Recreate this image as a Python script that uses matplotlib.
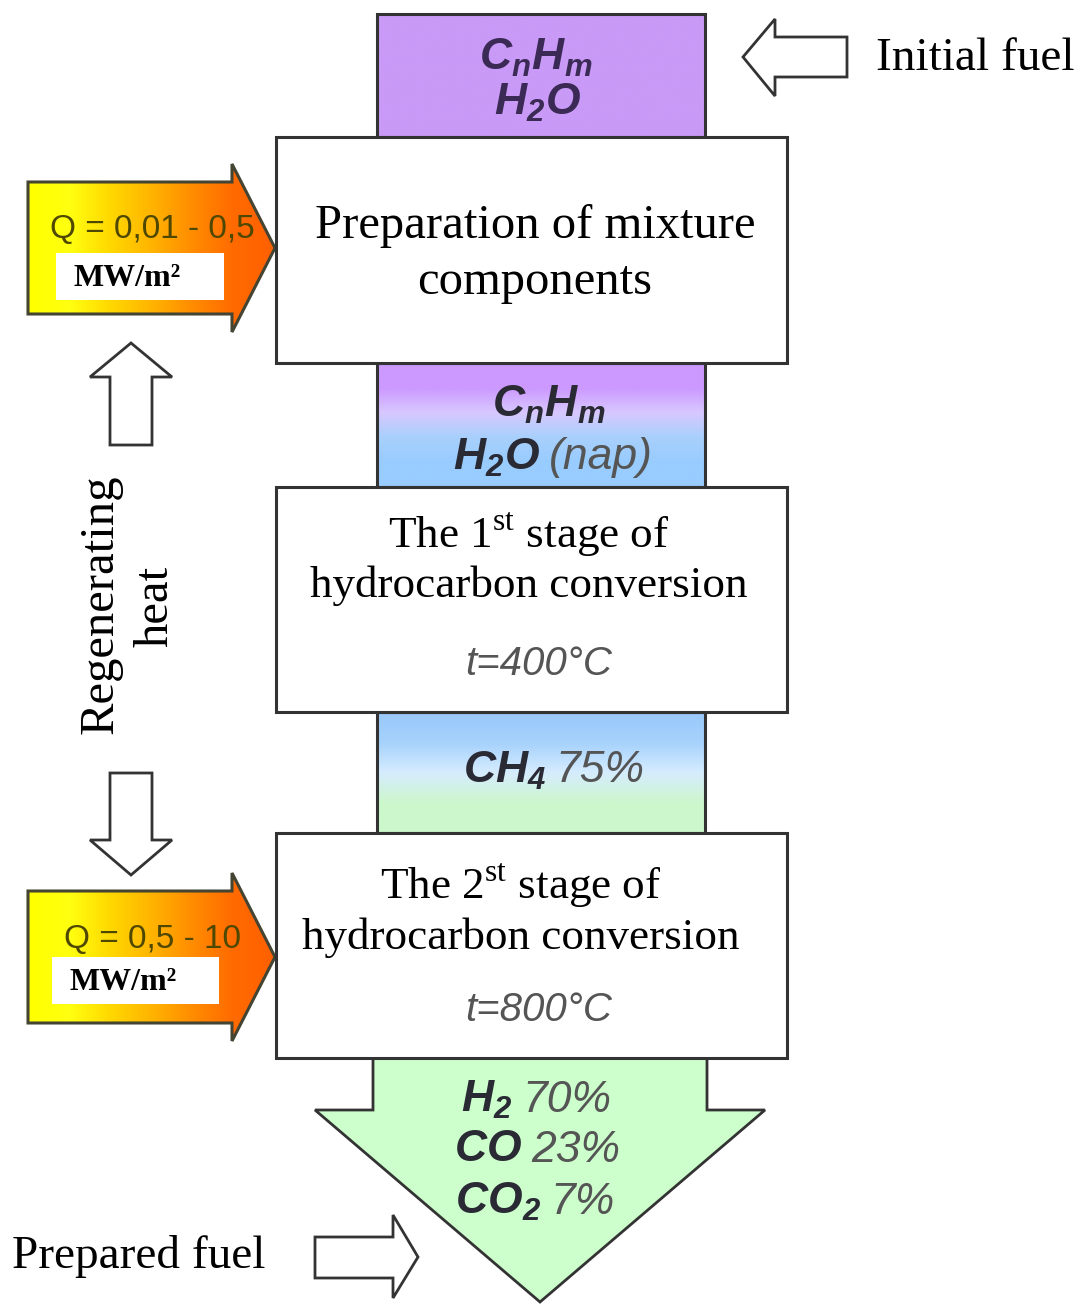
import numpy as np
import matplotlib
matplotlib.use('Agg')
import matplotlib.pyplot as plt
from matplotlib.patches import Polygon, Rectangle
from matplotlib.colors import LinearSegmentedColormap

plt.rcParams['font.family'] = ['Liberation Serif', 'DejaVu Serif']
plt.rcParams['mathtext.fontset'] = 'custom'
plt.rcParams['mathtext.rm'] = 'Liberation Serif'
plt.rcParams['mathtext.it'] = 'Liberation Sans:italic'
plt.rcParams['mathtext.bf'] = 'Liberation Sans:italic:bold'

# texts of the scheme
stage_titles = [['Preparation of mixture', 'components'],
                ['The 1$^{\\mathrm{st}}$ stage of', 'hydrocarbon conversion'],
                ['The 2$^{\\mathrm{st}}$ stage of', 'hydrocarbon conversion']]
stage_temps = [None, 't=400°C', 't=800°C']
heat_flux = ['Q = 0,01 - 0,5', 'Q = 0,5 - 10']
heat_unit = 'MW/m²'
feed_gas = ['$\\mathbf{C_nH_m}$', '$\\mathbf{H_2O}$']
steam_gas = ['$\\mathbf{C_nH_m}$', '$\\mathbf{H_2O}$', '(nap)']
ch4_share = ['$\\mathbf{CH_4}$', '75%']
product_names = ['$\\mathbf{H_2}$', '$\\mathbf{CO}$', '$\\mathbf{CO_2}$']
product_shares = ['70%', '23%', '7%']

W, H = 1088, 1304
fig = plt.figure(figsize=(W / 100, H / 100), dpi=100)
ax = fig.add_axes([0, 0, 1, 1])
ax.set_xlim(0, W)
ax.set_ylim(H, 0)
ax.axis('off')

EC = '#333333'
DARK = '#2a2a35'
GREY = '#555555'


def gradient(ax, x0, x1, y0, y1, colors, clip, vertical=False):
    cmap = LinearSegmentedColormap.from_list('g', colors)
    g = np.linspace(0, 1, 256)
    g = g.reshape(-1, 1) if vertical else g.reshape(1, -1)
    im = ax.imshow(g, extent=(x0, x1, y1, y0), cmap=cmap, aspect='auto',
                   interpolation='bilinear', zorder=1)
    im.set_clip_path(clip)


def column(ax, y0, y1, colors):
    r = Rectangle((377, y0), 328, y1 - y0, facecolor='none', edgecolor=EC,
                  lw=2.2, zorder=3)
    ax.add_patch(r)
    gradient(ax, 377, 705, y0, y1, colors, r, vertical=True)


def box(ax, y0, y1):
    ax.add_patch(Rectangle((276, y0), 511, y1 - y0, facecolor='white',
                           edgecolor=EC, lw=2.2, zorder=4))


def hollow(ax, pts):
    ax.add_patch(Polygon(pts, closed=True, facecolor='white', edgecolor=EC,
                         lw=2, zorder=3))


def split_text(ax, xs, y, left, right, size=32):
    ax.text(xs, y, left, ha='right', va='center', fontsize=size, color=DARK, zorder=6)
    ax.text(xs + 9, y, right, ha='left', va='center', fontsize=size, color=GREY,
            family='Liberation Sans', style='italic', zorder=6)


# columns between the stages
column(ax, 14, 137, ['#c99af7', '#c99af7'])
column(ax, 363, 487, ['#cc99ff', '#cc99ff', '#d8c8ff', '#a8d0fc', '#99ccff', '#99ccff'])
column(ax, 712, 833, ['#99c8fa', '#a6d2fc', '#d6ecff', '#ccf7cc', '#ccf8cc'])

ax.text(536, 58, feed_gas[0], ha='center', va='center', fontsize=32, color='#3a2a55', zorder=6)
ax.text(537, 103, feed_gas[1], ha='center', va='center', fontsize=32, color='#3a2a55', zorder=6)
ax.text(549, 405, steam_gas[0], ha='center', va='center', fontsize=32, color=DARK, zorder=6)
split_text(ax, 540, 458, steam_gas[1], steam_gas[2])
split_text(ax, 546, 771, ch4_share[0], ch4_share[1])

# stage boxes
box_y = [(137, 363), (487, 712), (833, 1058)]
title_base = [(238, 294), (547, 597), (898, 949)]
title_x = [535, 529, 521]
title_size = [35, 32.5, 32.5]
for (y0, y1), yb, tx, fs, lines, temp in zip(box_y, title_base, title_x, title_size,
                                             stage_titles, stage_temps):
    box(ax, y0, y1)
    for y, line in zip(yb, lines):
        ax.text(tx, y, line, ha='center', va='baseline', fontsize=fs, zorder=6)
    if temp:
        ax.text(539, y1 - 48, temp, ha='center', va='center', fontsize=29,
                family='Liberation Sans', style='italic', color=GREY, zorder=6)

# product arrow
prod = Polygon([(373, 1058), (373, 1110), (315, 1110), (540, 1302), (765, 1110),
                (707, 1110), (707, 1058)], closed=True, facecolor='#ccffcc',
               edgecolor=EC, lw=2, zorder=2)
ax.add_patch(prod)
for y, xs, name, share in zip([1100, 1150, 1202], [513, 522, 541],
                              product_names, product_shares):
    split_text(ax, xs, y, name, share)

# heat arrows with colour gradient
orange = ['#ffff00', '#ffff10', '#ffd800', '#ffb400', '#ff8c00', '#ff6a00', '#ff6000']
for (yc, flux, (bx, by, bw)) in zip([248, 957], heat_flux,
                                     [(56, 253, 168), (52, 957, 167)]):
    pts = [(28, yc - 66), (232, yc - 66), (232, yc - 84), (275, yc),
           (232, yc + 84), (232, yc + 66), (28, yc + 66)]
    arr = Polygon(pts, closed=True, facecolor='none', edgecolor='#444433',
                  lw=2.2, zorder=3)
    ax.add_patch(arr)
    gradient(ax, 28, 275, yc - 84, yc + 84, orange, arr)
    ax.text(152, yc - 18, flux, ha='center', va='center', fontsize=24,
            family='Liberation Sans', color='#4f4800', zorder=6)
    ax.add_patch(Rectangle((bx, by), bw, 47, facecolor='white', edgecolor='none', zorder=5))
    ax.text(bx + 18, by + 25, heat_unit, ha='left', va='center', fontsize=23,
            weight='bold', zorder=6)

# hollow arrows
hollow(ax, [(847, 37), (775, 37), (775, 19), (743, 57), (775, 96), (775, 77), (847, 77)])
hollow(ax, [(110, 445), (110, 377), (90, 377), (131, 343), (172, 377), (152, 377), (152, 445)])
hollow(ax, [(110, 773), (110, 840), (90, 840), (131, 875), (172, 840), (152, 840), (152, 773)])
hollow(ax, [(315, 1237), (393, 1237), (393, 1215), (418, 1257), (393, 1298), (393, 1278), (315, 1278)])

# labels
ax.text(876, 59, 'Initial fuel', ha='left', va='center', fontsize=34)
ax.text(12, 1257, 'Prepared fuel', ha='left', va='center', fontsize=34)
ax.text(113, 604, 'Regenerating', ha='center', va='baseline', fontsize=35,
        rotation=90, rotation_mode='anchor')
ax.text(168, 606, 'heat', ha='center', va='baseline', fontsize=35,
        rotation=90, rotation_mode='anchor')

fig.savefig('out.png', dpi=100)
